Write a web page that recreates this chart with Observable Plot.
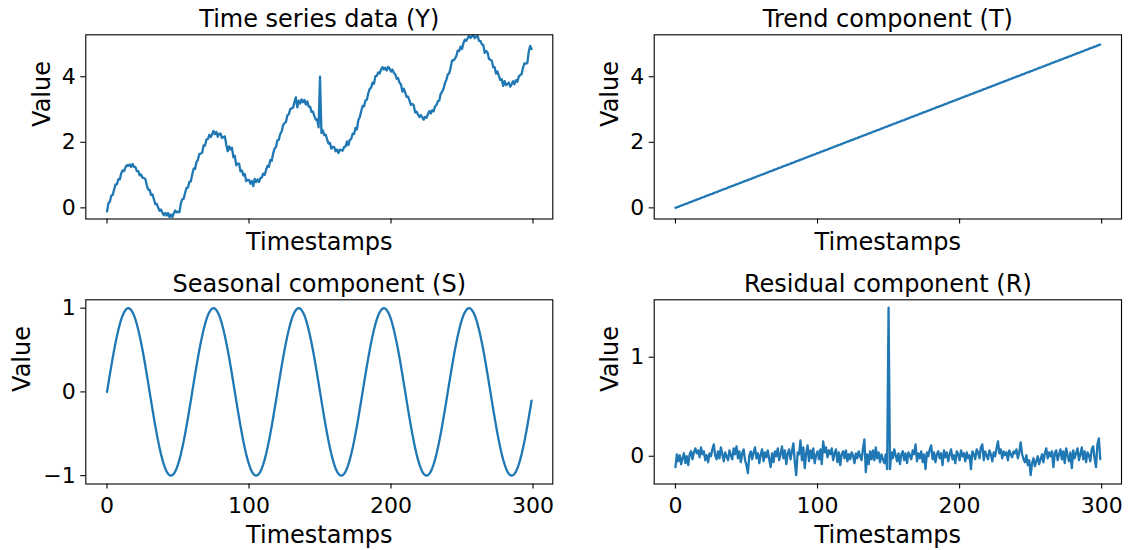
<!DOCTYPE html>
<html>
<head>
<meta charset="utf-8">
<script src="https://cdn.jsdelivr.net/npm/d3@7"></script>
<script src="https://cdn.jsdelivr.net/npm/@observablehq/plot@0.6"></script>
<style>
  html, body { margin: 0; padding: 0; background: #fff; }
  #fig { position: relative; width: 1133px; height: 550px; font-family: "DejaVu Sans", sans-serif; }
  #fig > svg { position: absolute; }
</style>
</head>
<body>
<div id="fig"></div>
<script>
// Trend component (T), one value per timestamp 0..299
const trend = [
  0,0.02,0.03,0.05,0.07,0.08,0.1,0.12,0.13,0.15,0.17,0.18,0.2,0.22,0.23,0.25,0.27,0.28,0.3,0.32,0.33,0.35,0.37,0.38,0.4,0.42,0.43,0.45,0.47,0.48,
  0.5,0.52,0.53,0.55,0.57,0.58,0.6,0.62,0.63,0.65,0.67,0.68,0.7,0.72,0.73,0.75,0.77,0.78,0.8,0.82,0.83,0.85,0.87,0.88,0.9,0.92,0.93,0.95,0.97,0.98,
  1,1.02,1.03,1.05,1.07,1.08,1.1,1.12,1.13,1.15,1.17,1.18,1.2,1.22,1.23,1.25,1.27,1.28,1.3,1.32,1.33,1.35,1.37,1.38,1.4,1.42,1.43,1.45,1.47,1.48,
  1.5,1.52,1.53,1.55,1.57,1.58,1.6,1.62,1.63,1.65,1.67,1.68,1.7,1.72,1.73,1.75,1.77,1.78,1.8,1.82,1.83,1.85,1.87,1.88,1.9,1.92,1.93,1.95,1.97,1.98,
  2,2.02,2.03,2.05,2.07,2.08,2.1,2.12,2.13,2.15,2.17,2.18,2.2,2.22,2.23,2.25,2.27,2.28,2.3,2.32,2.33,2.35,2.37,2.38,2.4,2.42,2.43,2.45,2.47,2.48,
  2.5,2.52,2.53,2.55,2.57,2.58,2.6,2.62,2.63,2.65,2.67,2.68,2.7,2.72,2.73,2.75,2.77,2.78,2.8,2.82,2.83,2.85,2.87,2.88,2.9,2.92,2.93,2.95,2.97,2.98,
  3,3.02,3.03,3.05,3.07,3.08,3.1,3.12,3.13,3.15,3.17,3.18,3.2,3.22,3.23,3.25,3.27,3.28,3.3,3.32,3.33,3.35,3.37,3.38,3.4,3.42,3.43,3.45,3.47,3.48,
  3.5,3.52,3.53,3.55,3.57,3.58,3.6,3.62,3.63,3.65,3.67,3.68,3.7,3.72,3.73,3.75,3.77,3.78,3.8,3.82,3.83,3.85,3.87,3.88,3.9,3.92,3.93,3.95,3.97,3.98,
  4,4.02,4.03,4.05,4.07,4.08,4.1,4.12,4.13,4.15,4.17,4.18,4.2,4.22,4.23,4.25,4.27,4.28,4.3,4.32,4.33,4.35,4.37,4.38,4.4,4.42,4.43,4.45,4.47,4.48,
  4.5,4.52,4.53,4.55,4.57,4.58,4.6,4.62,4.63,4.65,4.67,4.68,4.7,4.72,4.73,4.75,4.77,4.78,4.8,4.82,4.83,4.85,4.87,4.88,4.9,4.92,4.93,4.95,4.97,4.98
];

// Seasonal component (S): five cycles of 60 timestamps
const seasonal = [
  0,0.105,0.208,0.309,0.407,0.5,0.588,0.669,0.743,0.809,0.866,0.914,0.951,0.978,0.995,1,0.995,0.978,0.951,0.914,0.866,0.809,0.743,0.669,0.588,0.5,0.407,0.309,0.208,0.105,
  0,-0.105,-0.208,-0.309,-0.407,-0.5,-0.588,-0.669,-0.743,-0.809,-0.866,-0.914,-0.951,-0.978,-0.995,-1,-0.995,-0.978,-0.951,-0.914,-0.866,-0.809,-0.743,-0.669,-0.588,-0.5,-0.407,-0.309,-0.208,-0.105,
  0,0.105,0.208,0.309,0.407,0.5,0.588,0.669,0.743,0.809,0.866,0.914,0.951,0.978,0.995,1,0.995,0.978,0.951,0.914,0.866,0.809,0.743,0.669,0.588,0.5,0.407,0.309,0.208,0.105,
  0,-0.105,-0.208,-0.309,-0.407,-0.5,-0.588,-0.669,-0.743,-0.809,-0.866,-0.914,-0.951,-0.978,-0.995,-1,-0.995,-0.978,-0.951,-0.914,-0.866,-0.809,-0.743,-0.669,-0.588,-0.5,-0.407,-0.309,-0.208,-0.105,
  0,0.105,0.208,0.309,0.407,0.5,0.588,0.669,0.743,0.809,0.866,0.914,0.951,0.978,0.995,1,0.995,0.978,0.951,0.914,0.866,0.809,0.743,0.669,0.588,0.5,0.407,0.309,0.208,0.105,
  0,-0.105,-0.208,-0.309,-0.407,-0.5,-0.588,-0.669,-0.743,-0.809,-0.866,-0.914,-0.951,-0.978,-0.995,-1,-0.995,-0.978,-0.951,-0.914,-0.866,-0.809,-0.743,-0.669,-0.588,-0.5,-0.407,-0.309,-0.208,-0.105,
  0,0.105,0.208,0.309,0.407,0.5,0.588,0.669,0.743,0.809,0.866,0.914,0.951,0.978,0.995,1,0.995,0.978,0.951,0.914,0.866,0.809,0.743,0.669,0.588,0.5,0.407,0.309,0.208,0.105,
  0,-0.105,-0.208,-0.309,-0.407,-0.5,-0.588,-0.669,-0.743,-0.809,-0.866,-0.914,-0.951,-0.978,-0.995,-1,-0.995,-0.978,-0.951,-0.914,-0.866,-0.809,-0.743,-0.669,-0.588,-0.5,-0.407,-0.309,-0.208,-0.105,
  0,0.105,0.208,0.309,0.407,0.5,0.588,0.669,0.743,0.809,0.866,0.914,0.951,0.978,0.995,1,0.995,0.978,0.951,0.914,0.866,0.809,0.743,0.669,0.588,0.5,0.407,0.309,0.208,0.105,
  0,-0.105,-0.208,-0.309,-0.407,-0.5,-0.588,-0.669,-0.743,-0.809,-0.866,-0.914,-0.951,-0.978,-0.995,-1,-0.995,-0.978,-0.951,-0.914,-0.866,-0.809,-0.743,-0.669,-0.588,-0.5,-0.407,-0.309,-0.208,-0.105
];

// Residual component (R), with the outlier at timestamp 150
const residual = [
  -0.11,0.02,-0.05,0.01,-0.08,-0.02,0.03,-0.07,0.00,-0.09,0.02,0.05,-0.03,0.04,0.08,0.03,0.06,-0.01,0.09,0.02,
  0.05,-0.04,0.01,-0.06,0.03,0.00,0.07,0.12,0.01,-0.03,0.05,-0.02,0.09,0.02,-0.05,0.04,0.00,-0.04,0.06,0.01,
  -0.03,0.08,0.02,0.10,-0.02,0.05,-0.06,0.03,0.07,-0.04,-0.09,-0.17,0.01,0.05,-0.03,0.04,0.09,-0.02,0.03,-0.07,
  0.02,0.07,-0.05,0.04,-0.01,0.06,-0.03,-0.11,0.03,-0.06,0.05,0.00,0.08,-0.04,0.02,0.10,-0.02,0.06,-0.08,0.03,
  0.07,-0.03,0.05,0.13,-0.06,-0.19,0.04,0.02,0.16,-0.04,0.09,-0.12,0.03,0.11,-0.05,0.06,-0.02,0.08,-0.07,0.01,
  0.05,-0.03,0.07,-0.08,0.15,0.04,0.09,-0.01,0.06,0.02,0.08,-0.04,0.03,0.07,-0.06,0.04,-0.09,0.02,0.05,-0.02,
  0.06,-0.05,0.02,-0.03,0.04,0.01,-0.07,0.03,-0.02,0.05,0.00,-0.04,0.08,0.17,-0.16,0.02,-0.08,0.05,-0.03,0.06,
  -0.04,0.09,-0.02,0.04,-0.06,0.02,-0.03,-0.07,0.02,-0.13,1.50,-0.13,0.04,-0.02,0.07,0.01,-0.05,0.03,-0.08,0.02,
  0.05,-0.04,0.03,-0.07,0.04,0.01,-0.03,0.06,0.02,0.12,-0.05,0.03,-0.02,0.05,-0.06,0.02,-0.13,0.04,0.00,0.07,
  0.11,-0.03,0.04,-0.06,0.02,0.05,-0.02,0.03,-0.09,0.06,-0.01,0.04,-0.05,0.02,0.07,-0.03,0.01,-0.07,0.05,0.02,
  -0.04,0.06,0.00,0.03,-0.05,0.04,-0.02,0.01,-0.13,0.05,0.02,-0.03,0.07,0.04,-0.02,0.09,0.12,-0.04,0.05,0.01,
  -0.03,0.06,0.02,-0.05,0.04,0.00,0.08,0.15,0.03,0.07,-0.02,0.05,0.01,0.04,-0.04,0.06,0.02,-0.01,0.05,0.03,
  0.07,-0.02,0.04,0.14,0.02,-0.03,-0.06,0.01,-0.09,-0.04,-0.19,-0.07,-0.02,-0.10,-0.05,0.00,-0.08,-0.03,0.02,-0.06,
  0.03,0.08,-0.02,0.04,0.00,0.05,-0.11,0.03,0.06,-0.04,0.02,0.07,-0.03,0.05,-0.07,0.08,0.01,-0.05,0.04,-0.12,
  0.06,-0.02,0.03,0.08,-0.04,0.02,0.09,-0.03,0.05,-0.06,0.04,0.01,-0.05,0.07,0.10,-0.02,-0.11,0.12,0.18,-0.03
];

// The observed series is the sum of its three components: Y = T + S + R
const observed = residual.map((r, i) => trend[i] + seasonal[i] + r);

const xTicks = [0, 100, 200, 300];
const yTicksTop = [0, 2, 4];
const yTicksSeasonal = [-1, 0, 1];
const yTicksResidual = [0, 1];

const titles = [
  "Time series data (Y)",
  "Trend component (T)",
  "Seasonal component (S)",
  "Residual component (R)"
];
const xLabel = "Timestamps";
const yLabel = "Value";

const blue = "#1f77b4";
const xDomain = [-14.95, 313.95];
const intFormat = d3.format("d");

function panel(values, o) {
  const svg = Plot.plot({
    width: o.width,
    height: o.height,
    marginTop: o.mt,
    marginRight: o.mr,
    marginBottom: o.mb,
    marginLeft: o.ml,
    style: {
      fontFamily: '"DejaVu Sans", sans-serif',
      fontSize: "22px",
      background: "white",
      color: "black",
      overflow: "visible"
    },
    x: {domain: xDomain},
    y: {domain: o.yDomain},
    marks: [
      Plot.line(values, {x: (d, i) => i, y: (d) => d, stroke: blue, strokeWidth: 2.3, clip: true}),
      Plot.frame({stroke: "black", strokeWidth: 1.1}),
      Plot.axisX({
        ticks: xTicks,
        tickSize: 5,
        tickPadding: 8,
        strokeWidth: 1.1,
        fontSize: 22,
        tickFormat: o.xTickLabels ? intFormat : () => "",
        label: null
      }),
      Plot.axisY({
        ticks: o.yTicks,
        tickSize: 5,
        tickPadding: 5,
        strokeWidth: 1.1,
        fontSize: 22,
        tickFormat: intFormat,
        label: null
      }),
      Plot.text([o.title], {text: (d) => d, frameAnchor: "top", dy: -8, lineAnchor: "bottom", fontSize: 24}),
      Plot.text([yLabel], {text: (d) => d, frameAnchor: "left", dx: o.yLabelDx, rotate: -90, lineAnchor: "bottom", fontSize: 24}),
      Plot.text([xLabel], {text: (d) => d, frameAnchor: "bottom", dy: o.xLabelDy, lineAnchor: "bottom", fontSize: 24})
    ]
  });
  svg.style.left = o.left + "px";
  svg.style.top = o.top + "px";
  document.getElementById("fig").append(svg);
}

const topDomain = [-0.34, 5.28];

panel(observed, {
  left: 0, top: 0, width: 566, height: 265,
  mt: 34.3, mr: 13.7, mb: 46.5, ml: 85.3,
  yDomain: topDomain, yTicks: yTicksTop, title: titles[0],
  xTickLabels: false, xLabelDy: 30.5, yLabelDx: -36
});
panel(trend, {
  left: 566, top: 0, width: 567, height: 265,
  mt: 34.3, mr: 12, mb: 46.5, ml: 87.7,
  yDomain: topDomain, yTicks: yTicksTop, title: titles[1],
  xTickLabels: false, xLabelDy: 30.5, yLabelDx: -36
});
panel(seasonal, {
  left: 0, top: 265, width: 566, height: 285,
  mt: 34.3, mr: 13.7, mb: 66.5, ml: 85.3,
  yDomain: [-1.1, 1.1], yTicks: yTicksSeasonal, title: titles[2],
  xTickLabels: true, xLabelDy: 58.5, yLabelDx: -56
});
panel(residual, {
  left: 566, top: 265, width: 567, height: 285,
  mt: 34.3, mr: 12, mb: 66.5, ml: 87.7,
  yDomain: [-0.28, 1.58], yTicks: yTicksResidual, title: titles[3],
  xTickLabels: true, xLabelDy: 58.5, yLabelDx: -36
});
</script>
</body>
</html>
